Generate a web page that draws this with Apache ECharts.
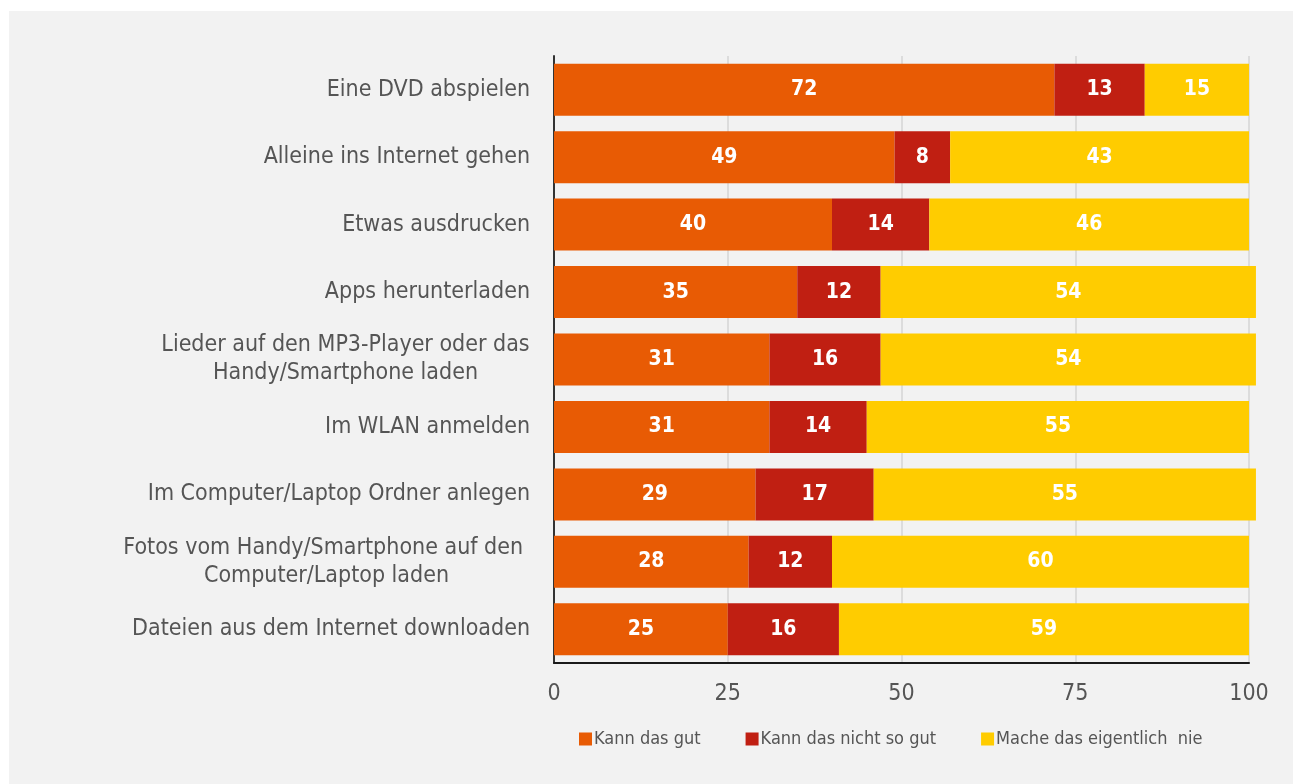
<!DOCTYPE html>
<html>
<head>
<meta charset="utf-8">
<script src="https://cdn.jsdelivr.net/npm/echarts@6/dist/echarts.min.js"></script>
<style>
  html, body { margin: 0; padding: 0; background: #ffffff; }
  #chart { position: absolute; left: 9px; top: 11px; width: 1284px; height: 773px; background: #f2f2f2; }
</style>
</head>
<body>
<div id="chart"></div>
<script>
// Activities, top to bottom
const categories = [
  'Eine DVD abspielen',
  'Alleine ins Internet gehen',
  'Etwas ausdrucken',
  'Apps herunterladen',
  'Lieder auf den MP3-Player oder das\nHandy/Smartphone laden',
  'Im WLAN anmelden',
  'Im Computer/Laptop Ordner anlegen',
  'Fotos vom Handy/Smartphone auf den \nComputer/Laptop laden',
  'Dateien aus dem Internet downloaden'
];
const seriesNames = ['Kann das gut', 'Kann das nicht so gut', 'Mache das eigentlich  nie'];
const kannGut      = [72, 49, 40, 35, 31, 31, 29, 28, 25];
const kannNichtGut = [13,  8, 14, 12, 16, 14, 17, 12, 16];
const macheNie     = [15, 43, 46, 54, 54, 55, 55, 60, 59];
const xTicks = { min: 0, max: 100, interval: 25 };

const colors = ['#e85b04', '#c01f12', '#ffcc00'];
const FONT = 'DejaVu Sans Condensed';
const LABEL_SIZE = 23;
const LINE_H = 28;

// Multi-line category labels: lines centred within the block, block right-aligned at the axis
const measureCtx = document.createElement('canvas').getContext('2d');
measureCtx.font = LABEL_SIZE + 'px "' + FONT + '"';
const rich = {};
const labelMap = {};
categories.forEach((c, i) => {
  const lines = c.split('\n');
  if (lines.length === 1) { labelMap[c] = c; return; }
  const w = Math.ceil(Math.max(...lines.map(l => measureCtx.measureText(l).width)));
  const key = 'c' + i;
  rich[key] = { width: w, align: 'center', fontSize: LABEL_SIZE, fontFamily: FONT, color: '#555555', lineHeight: LINE_H };
  labelMap[c] = lines.map(l => '{' + key + '|' + l + '}').join('\n');
});

const chart = echarts.init(document.getElementById('chart'), null, { renderer: 'canvas' });

function barSeries(name, data, color) {
  return {
    name: name,
    type: 'bar',
    stack: 'total',
    data: data,
    barWidth: 52,
    clip: false,
    itemStyle: { color: color },
    label: {
      show: true,
      position: 'inside',
      color: '#ffffff',
      fontFamily: FONT,
      fontWeight: 'bold',
      fontSize: 21
    },
    emphasis: { disabled: true }
  };
}

chart.setOption({
  backgroundColor: '#f2f2f2',
  animation: false,
  textStyle: { fontFamily: FONT },
  grid: { left: 545, right: 44, top: 45, bottom: 121, containLabel: false },
  legend: {
    left: 565,
    bottom: 31,
    itemWidth: 13,
    itemHeight: 13,
    itemGap: 45,
    icon: 'rect',
    textStyle: { color: '#555555', fontSize: 18, fontFamily: FONT, padding: [0, 0, 0, -3] },
    data: seriesNames
  },
  xAxis: {
    type: 'value',
    min: xTicks.min,
    max: xTicks.max,
    interval: xTicks.interval,
    axisLine: { show: true, lineStyle: { color: '#1a1a1a', width: 2 } },
    axisTick: { show: false },
    axisLabel: { color: '#555555', fontSize: 23, fontFamily: FONT, margin: 20 },
    splitLine: { show: true, lineStyle: { color: '#dcdcdc', width: 2 } }
  },
  yAxis: {
    type: 'category',
    inverse: true,
    data: categories,
    axisLine: { show: true, lineStyle: { color: '#333333', width: 2 } },
    axisTick: { show: false },
    axisLabel: {
      color: '#555555',
      fontSize: LABEL_SIZE,
      fontFamily: FONT,
      margin: 24,
      lineHeight: LINE_H,
      formatter: v => labelMap[v],
      rich: rich
    }
  },
  series: [
    barSeries(seriesNames[0], kannGut, colors[0]),
    barSeries(seriesNames[1], kannNichtGut, colors[1]),
    barSeries(seriesNames[2], macheNie, colors[2])
  ]
});
</script>
</body>
</html>
